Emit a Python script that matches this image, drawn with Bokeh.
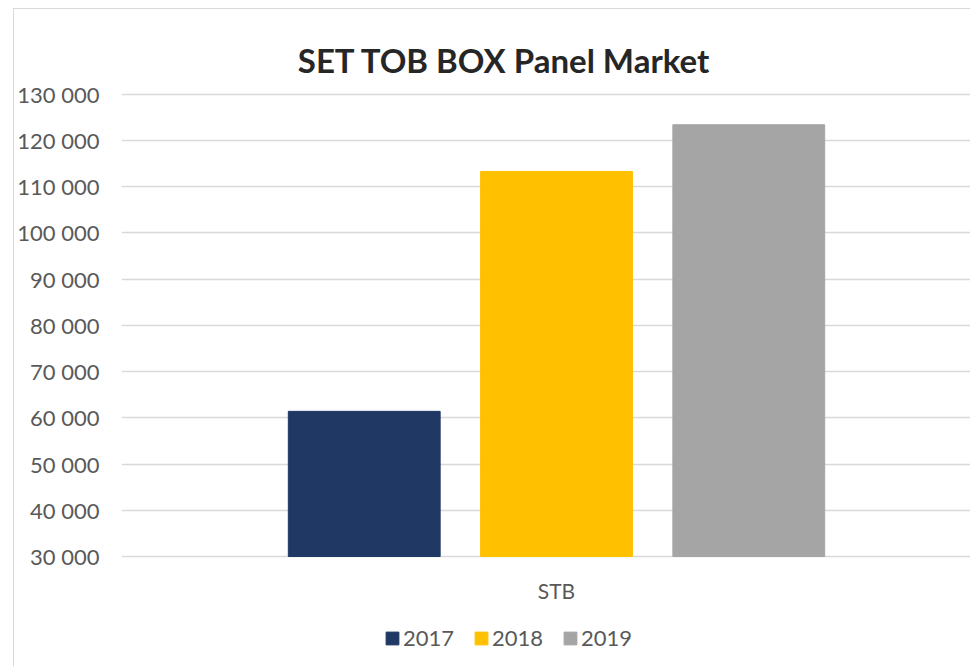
from bokeh.plotting import figure
from bokeh.models import (Range1d, FixedTicker, ColumnDataSource, Legend, LegendItem, Label)
from bokeh.embed import file_html
from bokeh.resources import INLINE

# ---- data ----
categories = ["STB"]
years = ["2017", "2018", "2019"]
values = [61400, 113300, 123400]
colors = ["#203864", "#FFC000", "#A5A5A5"]
y_ticks = [30000, 40000, 50000, 60000, 70000, 80000, 90000, 100000, 110000, 120000, 130000]
y_tick_labels = ["30 000", "40 000", "50 000", "60 000", "70 000", "80 000",
                 "90 000", "100 000", "110 000", "120 000", "130 000"]
title_text = "SET TOB BOX Panel Market"

FONT = "Lato"
GRID = "#d9d9d9"
LABEL = "#595959"

# layout geometry (pixels)
FRAME_H = 658
PX_TOP_GRID = 84.75      # top gridline below frame top
PX_BOTTOM_GRID = 111     # baseline above frame bottom
span = y_ticks[-1] - y_ticks[0]
per_px = span / (FRAME_H - PX_TOP_GRID - PX_BOTTOM_GRID)
y_start = y_ticks[0] - PX_BOTTOM_GRID * per_px
y_end = y_ticks[-1] + PX_TOP_GRID * per_px

step = 0.221
bar_w = 0.1745
n = len(years)
xs = [(i - (n - 1) / 2) * step for i in range(n)]

p = figure(width=957, height=FRAME_H, output_backend="svg", toolbar_location=None,
           x_range=Range1d(-0.5, 0.477), y_range=Range1d(y_start, y_end),
           x_axis_location=None,
           min_border_left=107, min_border_right=0, min_border_top=0, min_border_bottom=0,
           margin=(8, 0, 0, 13), title=None)
p.styles = {"border-left": "1px solid #d9d9d9", "border-top": "1px solid #d9d9d9"}
p.outline_line_color = None
p.background_fill_color = "white"
p.border_fill_color = "white"

items = []
for i in range(n):
    src = ColumnDataSource(dict(x=[xs[i]], top=[values[i]]))
    r = p.vbar(x="x", top="top", bottom=y_ticks[0], width=bar_w,
               fill_color=colors[i], line_color=colors[i], source=src)
    items.append(LegendItem(label=years[i], renderers=[r]))

# y axis
p.yaxis.ticker = FixedTicker(ticks=y_ticks)
p.yaxis.major_label_overrides = {t: l for t, l in zip(y_ticks, y_tick_labels)}
p.yaxis.axis_line_color = None
p.yaxis.major_tick_line_color = None
p.yaxis.minor_tick_line_color = None
p.yaxis.major_tick_out = 0
p.yaxis.major_label_standoff = 22
p.yaxis.major_label_text_font = FONT
p.yaxis.major_label_text_font_size = "22px"
p.yaxis.major_label_text_color = LABEL

p.xgrid.visible = False
p.ygrid.ticker = FixedTicker(ticks=y_ticks)
p.ygrid.grid_line_color = GRID
p.ygrid.grid_line_width = 1.3

# category label
p.add_layout(Label(x=0, y=77, y_units="screen", text=categories[0],
                   text_align="center", text_baseline="alphabetic",
                   text_font=FONT, text_font_size="21px", text_color=LABEL))

# legend
lg = Legend(items=items, orientation="horizontal", location=(263, 16),
            glyph_width=16, glyph_height=16, label_standoff=3, spacing=19,
            padding=0, margin=0, border_line_color=None, background_fill_alpha=0,
            label_text_font=FONT, label_text_font_size="22px", label_text_color=LABEL)
p.add_layout(lg, "center")

# title
p.add_layout(Label(x=383, y=608, x_units="screen", y_units="screen", text=title_text,
                   text_align="center", text_baseline="alphabetic",
                   text_font=FONT, text_font_style="bold", text_font_size="33px",
                   text_color="#262626"))

open("out.html", "w").write(file_html(p, INLINE))
